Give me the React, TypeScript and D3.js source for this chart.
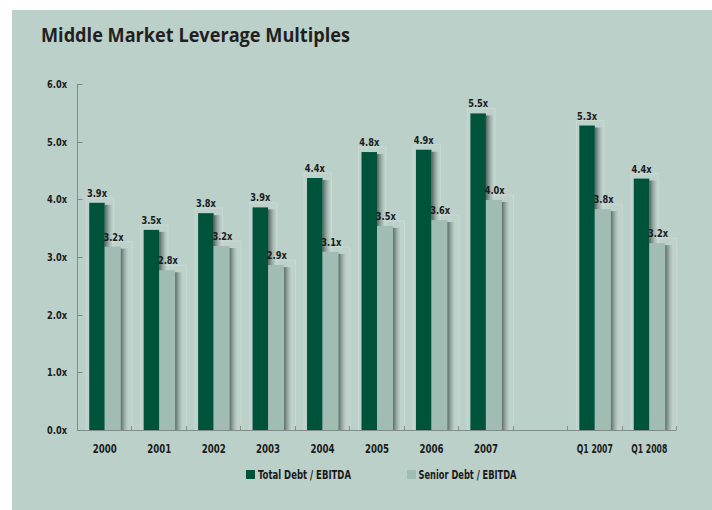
import React from "react";
import * as d3 from "d3";

const categories = ["2000", "2001", "2002", "2003", "2004", "2005", "2006", "2007", "", "Q1 2007", "Q1 2008"];
const totalDebt = [3.94, 3.47, 3.76, 3.86, 4.37, 4.82, 4.86, 5.49, null, 5.28, 4.36];
const seniorDebt = [3.18, 2.77, 3.19, 2.86, 3.09, 3.54, 3.64, 3.99, null, 3.83, 3.24];
const yTicks = [0, 1, 2, 3, 4, 5, 6];
const seriesNames = ["Total Debt / EBITDA", "Senior Debt / EBITDA"];

const W = 712;
const H = 510;
const BG = "#bbd0c9";
const DARK = "#00533b";
const LIGHT = "#a1bcb3";
const AXIS = "#7d8c87";
const FONT = "'DejaVu Sans', sans-serif";
const TXT = "#1a1a1a";

export default function App() {
  const x = d3.scaleBand<string>().domain(categories.map((c, i) => c + "#" + i)).range([77, 676]).paddingInner(0).paddingOuter(0);
  const y = d3.scaleLinear().domain([0, 6]).range([430, 84]);
  const bw = x.bandwidth();
  const barW = 15.5;

  const bars: any[] = [];
  categories.forEach((c, i) => {
    const key = c + "#" + i;
    const cx = (x(key) as number) + bw / 2 + 0.5;
    const t = totalDebt[i];
    const s = seniorDebt[i];
    if (t == null || s == null) return;
    bars.push({ key, cx, t, s });
  });

  const txt = { fontFamily: FONT, fontWeight: 700, fontStretch: "condensed" as any, fill: TXT };

  return (
    <svg width={W} height={H} style={{ position: "absolute", left: 0, top: 0 }}>
      <defs>
        <linearGradient id="shadow" x1="0" x2="1" y1="0" y2="0">
          <stop offset="0" stopColor="#2f3d38" stopOpacity="0.75" />
          <stop offset="0.5" stopColor="#4a5a54" stopOpacity="0.35" />
          <stop offset="1" stopColor="#6b7d77" stopOpacity="0" />
        </linearGradient>
      </defs>
      <rect x={0} y={0} width={W} height={H} fill="#ffffff" />
      <rect x={12} y={10} width={700} height={500} fill={BG} />
      <text x={41} y={42} fontFamily="'Open Sans', sans-serif" fontWeight={700} fontSize={20} fill="#231f20" textLength={309} lengthAdjust="spacingAndGlyphs">
        Middle Market Leverage Multiples
      </text>

      {/* glow boxes */}
      {bars.map((b) => (
        <g key={"g" + b.key}>
          <rect x={b.cx - barW - 3} y={y(b.t) - 5} width={barW + 12} height={430 - y(b.t) + 5} fill="#ffffff" fillOpacity={0.05} stroke="#ffffff" strokeOpacity={0.2} strokeWidth={1} />
          <rect x={b.cx - 2} y={y(b.s) - 5} width={barW + 14} height={430 - y(b.s) + 5} fill="#ffffff" fillOpacity={0.05} stroke="#ffffff" strokeOpacity={0.2} strokeWidth={1} />
        </g>
      ))}

      {/* bars with shadows */}
      {bars.map((b) => (
        <g key={"b" + b.key}>
          <rect x={b.cx} y={y(b.t) + 2} width={8} height={430 - y(b.t) - 2} fill="url(#shadow)" />
          <rect x={b.cx - barW} y={y(b.t)} width={barW} height={430 - y(b.t) + 1} fill={DARK} />
          <rect x={b.cx + barW} y={y(b.s) + 2} width={8} height={430 - y(b.s) - 2} fill="url(#shadow)" />
          <rect x={b.cx} y={y(b.s)} width={barW + 0.5} height={430 - y(b.s)} fill={LIGHT} />
        </g>
      ))}

      {/* value labels */}
      {bars.map((b) => (
        <g key={"l" + b.key} {...txt} fontSize={11}>
          <text x={b.cx - barW / 2} y={y(b.t) - 6} textAnchor="middle" textLength={20} lengthAdjust="spacingAndGlyphs">{b.t.toFixed(1)}x</text>
          <text x={b.cx + barW / 2 + 1} y={y(b.s) - 6} textAnchor="middle" textLength={20} lengthAdjust="spacingAndGlyphs">{b.s.toFixed(1)}x</text>
        </g>
      ))}

      {/* y axis */}
      <line x1={77.5} x2={77.5} y1={84} y2={430} stroke={AXIS} strokeWidth={1} />
      {yTicks.map((v) => (
        <g key={"y" + v}>
          <line x1={77.5} x2={82.5} y1={Math.round(y(v)) + 0.5} y2={Math.round(y(v)) + 0.5} stroke={AXIS} />
          <text x={67} y={y(v) + 4} textAnchor="end" {...txt} fontSize={11} textLength={20} lengthAdjust="spacingAndGlyphs">
            {v.toFixed(1)}x
          </text>
        </g>
      ))}

      {/* x axis */}
      <line x1={77} x2={676.5} y1={430.5} y2={430.5} stroke={AXIS} strokeWidth={1} />
      {categories.map((c, i) => {
        const key = c + "#" + i;
        const x0 = x(key) as number;
        return (
          <g key={"x" + i}>
            <line x1={Math.round(x0 + bw) + 0.5} x2={Math.round(x0 + bw) + 0.5} y1={426} y2={430} stroke={AXIS} />
            {c && (
              <text x={x0 + bw / 2 + 0.5} y={453} textAnchor="middle" {...txt} fontSize={12} textLength={c.length > 4 ? 36 : 24} lengthAdjust="spacingAndGlyphs">
                {c}
              </text>
            )}
          </g>
        );
      })}

      {/* legend */}
      <rect x={246} y={470} width={9} height={9} fill={DARK} />
      <text x={258} y={479} {...txt} fontSize={11.5} textLength={93} lengthAdjust="spacingAndGlyphs">{seriesNames[0]}</text>
      <rect x={407} y={470} width={9} height={9} fill={LIGHT} />
      <text x={418.5} y={479} {...txt} fontSize={11.5} textLength={98} lengthAdjust="spacingAndGlyphs">{seriesNames[1]}</text>
    </svg>
  );
}
